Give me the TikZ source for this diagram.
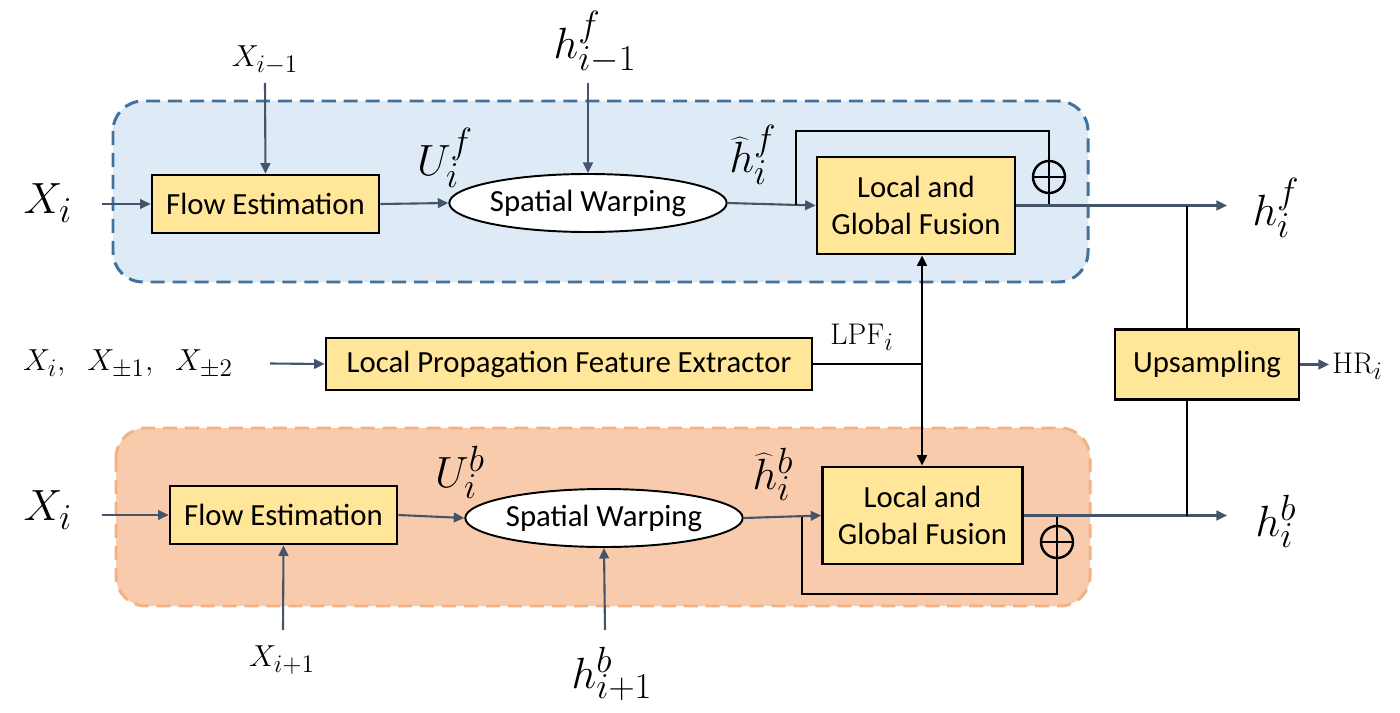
\documentclass[tikz,border=0pt]{standalone}
\usepackage{fontspec}
\newfontfamily\boxfont{Carlito}
\usetikzlibrary{arrows.meta,shapes.geometric,calc}
\DeclareMathSizes{25}{25}{20}{15}
\DeclareMathSizes{17}{17}{14}{11}
\DeclareMathSizes{18}{18}{14.5}{11}
\definecolor{bfill}{HTML}{DEEBF7}
\definecolor{bline}{HTML}{41719C}
\definecolor{ofill}{HTML}{F8CBAD}
\definecolor{oline}{HTML}{F4B183}
\definecolor{yfill}{HTML}{FFE699}
\definecolor{acol}{HTML}{44546A}
\def\px{0.02cm}
\begin{document}
\begin{tikzpicture}[x=0.02cm,y=-0.02cm,
  yb/.style={draw=black,line width=1.5pt,fill=yfill,font=\boxfont\fontsize{17.5}{21}\selectfont,align=center,inner sep=0pt},
  warp/.style={ellipse,draw=black,line width=1.1pt,fill=white,font=\boxfont\fontsize{17.5}{21}\selectfont,inner sep=0pt},
  arr/.style={draw=acol,line width=1.2pt,-{Triangle[length=6pt,width=5.5pt]}},
  ln/.style={draw=acol,line width=1.2pt},
  blk/.style={draw=black,line width=1.4pt},
  blkarr/.style={blk,-{Triangle[length=6pt,width=5.5pt]}},
  plus/.style={circle,draw=black,line width=1.4pt,minimum size={32*\px},inner sep=0pt,
    path picture={\draw[black,line width=1.4pt] (path picture bounding box.north) -- (path picture bounding box.south)
      (path picture bounding box.west) -- (path picture bounding box.east);}},
  lblL/.style={font=\fontsize{25}{30}\selectfont,inner sep=0pt},
  lblS/.style={font=\fontsize{17}{20}\selectfont,inner sep=0pt},
  regT/.style={fill=bfill,draw=bline,line width=1.7pt,dash pattern=on 8pt off 4.5pt,rounded corners=0.6cm},
  regB/.style={fill=ofill,draw=oline,line width=1.7pt,dash pattern=on 8pt off 4.5pt,rounded corners=0.6cm},
]
\useasboundingbox (0,0) rectangle (1400,713);

% regions
\draw[regT] (113,101) rectangle (1088,282);
\draw[regB] (116,428) rectangle (1090,606);

% ---------- top (forward) branch ----------
\node[lblL] (xiT) at (48,203) {$X_i$};
\coordinate (xiTs) at (102,204);
\node[yb,minimum width={227*\px},minimum height={58*\px}] (feT) at (265.5,204) {Flow Estimation};
\node[lblS] (xim1) at (265,60) {$X_{i-1}$};
\coordinate (xim1s) at (265,83);
\node[warp,minimum width={229*\px},minimum height={58*\px}] (swT) at (588,203) {Spatial Warping};
\node[lblL] (ufT) at (445,158) {$U_i^f$};
\node[lblL] (hfm1) at (595,42) {$h_{i-1}^f$};
\coordinate (hfm1s) at (588,83);
\node[yb,minimum width={198*\px},minimum height={97*\px}] (lgfT) at (916,205.5) {Local and\\Global Fusion};
\node[lblL] (hhT) at (753,155) {$\widehat{h}_i^f$};
\node[plus] (plusT) at (1049,177) {};
\coordinate (fbT) at (796,204.5);
\coordinate (joT) at (1049,205.5);
\coordinate (jT) at (1187,205.5);
\coordinate (outT) at (1227,205.5);
\node[lblL] (hfT) at (1276,208) {$h_i^f$};

\draw[arr] (xiTs) -- (feT.west);
\draw[arr] (xim1s) -- (feT.north);
\draw[arr] (feT.east) -- (swT.west);
\draw[arr] (hfm1s) -- (swT.north);
\draw[arr] (swT.east) -- (lgfT.west);
\draw[blk] (fbT) |- (plusT.north |- 0,131) -- (plusT.north);
\draw[blk] (plusT.south) -- (joT);
\draw[arr] (lgfT.east) -- (outT);

% ---------- middle ----------
\node[lblS,font=\fontsize{18}{20}\selectfont] (xs) at (128,364) {$X_i,\;\; X_{\pm 1},\;\; X_{\pm 2}$};
\coordinate (xss) at (270,363.5);
\node[yb,minimum width={486*\px},minimum height={52*\px}] (lpf) at (569,364) {Local Propagation Feature Extractor};
\node[lblS] (lpfl) at (862,337) {$\mathrm{LPF}_i$};
\coordinate (lpfj) at (922,364);
\node[yb,minimum width={184*\px},minimum height={70*\px}] (up) at (1207,364.5) {Upsampling};
\coordinate (hrs) at (1329,364.5);
\node[lblS,anchor=west] (hr) at (1332,366) {$\mathrm{HR}_i$};

\draw[arr] (xss) -- (lpf.west);
\draw[blk] (lpf.east) -- (lpfj);
\draw[blkarr] (lpfj) -- (lpfj |- lgfT.south);

\draw[arr] (up.east) -- (hrs);
\draw[blk] (jT) -- (jT |- up.north);

% ---------- bottom (backward) branch ----------
\node[lblL] (xiB) at (48,510) {$X_i$};
\coordinate (xiBs) at (102,515);
\node[yb,minimum width={227*\px},minimum height={58*\px}] (feB) at (283.5,515) {Flow Estimation};
\node[lblS] (xip1) at (282,660) {$X_{i+1}$};
\coordinate (xip1s) at (283,630);
\node[warp,minimum width={228*\px},minimum height={58*\px}] (swB) at (604,518) {Spatial Warping};
\node[lblL] (ubB) at (460,472) {$U_i^b$};
\node[lblL] (hbp1) at (612,674) {$h_{i+1}^b$};
\coordinate (hbp1s) at (605,630);
\node[yb,minimum width={200*\px},minimum height={97*\px}] (lgfB) at (922.5,515.5) {Local and\\Global Fusion};
\node[lblL] (hhB) at (773,474) {$\widehat{h}_i^b$};
\node[plus] (plusB) at (1057,542) {};
\coordinate (fbB) at (802,516.5);
\coordinate (joB) at (1057,515.5);
\coordinate (jB) at (1187,515.5);
\coordinate (outB) at (1227,515.5);
\node[lblL] (hbB) at (1276,521) {$h_i^b$};

\draw[arr] (xiBs) -- (feB.west);
\draw[arr] (xip1s) -- (feB.south);
\draw[arr] (feB.east) -- (swB.west);
\draw[arr] (hbp1s) -- (swB.south);
\draw[arr] (swB.east) -- (lgfB.west);
\draw[blk] (fbB) |- (plusB.south |- 0,594) -- (plusB.south);
\draw[blk] (plusB.north) -- (joB);
\draw[arr] (lgfB.east) -- (outB);
\draw[blk] (jB) -- (jB |- up.south);
\draw[blkarr] (lpfj) -- (lpfj |- lgfB.north);
\end{tikzpicture}
\end{document}
